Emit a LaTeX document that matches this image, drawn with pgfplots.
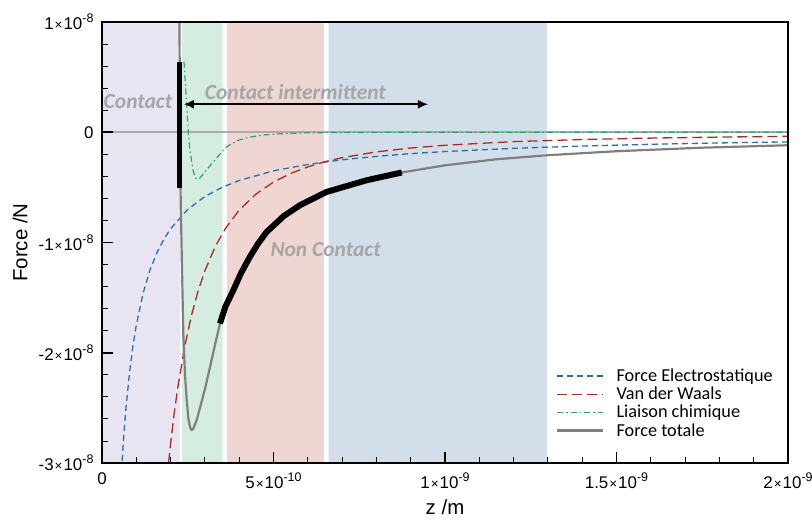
\documentclass[border=0pt]{standalone}
\usepackage{pgfplots}
\pgfplotsset{compat=1.18}
\usepackage{fontspec}
\setmainfont{Liberation Sans}
\newfontfamily\cali{Carlito}
\usetikzlibrary{arrows.meta}
\definecolor{regpurple}{HTML}{E9E4F2}
\definecolor{reggreen}{HTML}{D5ECE1}
\definecolor{regred}{HTML}{EFD6D2}
\definecolor{regblue}{HTML}{D2DFEA}
\definecolor{cblue}{HTML}{2A6EAE}
\definecolor{cred}{HTML}{AE2A1E}
\definecolor{cgreen}{HTML}{2EA36F}
\definecolor{cgray}{HTML}{7F7F7F}
\definecolor{annot}{HTML}{A6A6A6}
\newcommand{\tf}{\fontsize{17}{19}\selectfont}
\newcommand{\sci}[2]{\mbox{\tf #1\kern1bp{\fontsize{13.5}{12}\selectfont ×}\kern1bp 10\raisebox{7bp}{\fontsize{12.5}{12}\selectfont #2}}}
\newcommand{\zer}{\mbox{\tf 0}}
\begin{document}
\begin{tikzpicture}
\begin{axis}[
  scale only axis, width=686bp, height=441bp,
  xmin=0, xmax=2, ymin=-3, ymax=1,
  axis on top,
  axis line style={line width=1.8bp},
  tick align=inside, tick pos=left,
  major tick length=11bp, minor tick length=6bp,
  major tick style={line width=1.8bp, black},
  minor tick style={line width=0.9bp, black},
  xtick={0,0.5,1,1.5,2}, ytick={-3,-2,-1,0,1},
  minor x tick num=4, minor y tick num=4,
  xticklabels={\zer,\sci{5}{-10},\sci{1}{-9},\sci{1.5}{-9},\sci{2}{-9}},
  yticklabels={\sci{-3}{-8},\sci{-2}{-8},\sci{-1}{-8},\zer,\sci{1}{-8}},
  tick label style={font=\tf},
  xticklabel style={yshift=-6bp},
  yticklabel style={xshift=-5bp},
  xlabel={z /m}, ylabel={Force /N},
  label style={font=\fontsize{20.5}{23}\selectfont},
  x label style={at={(axis description cs:0.5,-0.100)}, anchor=center},
  y label style={at={(axis description cs:-0.1195,0.5)}, anchor=center},
  legend style={at={(axis description cs:0.662,0.218)}, anchor=north west,
    draw=none, fill=none, font=\cali\fontsize{18.3}{18.3}\selectfont,
    inner sep=0pt, row sep=0bp, column sep=10bp},
  legend cell align=left,
  legend image code/.code={\draw[#1] (0bp,0bp) -- (46bp,0bp);},
]
% shaded regions
\addplot[draw=none, fill=regpurple, forget plot] coordinates {(0,-3) (0.227,-3) (0.227,1) (0,1) (0,-3)};
\addplot[draw=none, fill=reggreen, forget plot] coordinates {(0.233,-3) (0.352,-3) (0.352,1) (0.233,1) (0.233,-3)};
\addplot[draw=none, fill=regred, forget plot] coordinates {(0.365,-3) (0.647,-3) (0.647,1) (0.365,1) (0.365,-3)};
\addplot[draw=none, fill=regblue, forget plot] coordinates {(0.661,-3) (1.297,-3) (1.297,1) (0.661,1) (0.661,-3)};
% zero line
\addplot[forget plot, color=black!33, line width=1.5bp] coordinates {(0,0) (2,0)};
% electrostatic
\addplot[cblue, line width=1.3bp, dash pattern=on 6bp off 4bp] coordinates {
(0.057,-3.07) (0.06,-2.917) (0.065,-2.692) (0.07,-2.5) (0.08,-2.1875) (0.09,-1.944)
(0.1,-1.75) (0.12,-1.458) (0.14,-1.25) (0.16,-1.094) (0.18,-0.972) (0.2,-0.875)
(0.25,-0.7) (0.3,-0.583) (0.35,-0.5) (0.4,-0.4375) (0.5,-0.35) (0.6,-0.292)
(0.7,-0.25) (0.8,-0.219) (0.9,-0.194) (1.0,-0.175) (1.2,-0.146) (1.4,-0.125)
(1.6,-0.109) (1.8,-0.097) (2.0,-0.0875)};
\addlegendentry{Force Electrostatique}
% van der waals
\addplot[cred, line width=1.3bp, dash pattern=on 10bp off 5bp] coordinates {
(0.194,-3.0) (0.2,-2.825) (0.21,-2.562) (0.22,-2.335) (0.24,-1.962) (0.26,-1.672)
(0.28,-1.441) (0.3,-1.256) (0.33,-1.038) (0.36,-0.872) (0.4,-0.706) (0.45,-0.558)
(0.5,-0.452) (0.55,-0.374) (0.6,-0.314) (0.65,-0.267) (0.7,-0.231) (0.8,-0.178)
(0.9,-0.143) (1.0,-0.118) (1.2,-0.085) (1.4,-0.066) (1.6,-0.053) (1.8,-0.044) (2.0,-0.037)};
\addlegendentry{Van der Waals}
% chemical
\addplot[cgreen, line width=1.2bp, dash pattern=on 6bp off 3bp on 1.5bp off 3bp] coordinates {
(0.239,0.64) (0.243,0.45) (0.247,0.25) (0.2516,0.0) (0.256,-0.15) (0.2615,-0.27)
(0.266,-0.35) (0.271,-0.40) (0.276,-0.425) (0.281,-0.425) (0.2857,-0.414) (0.295,-0.38)
(0.305,-0.34) (0.3245,-0.269) (0.345,-0.195) (0.3635,-0.133) (0.38,-0.10) (0.397,-0.073)
(0.43,-0.045) (0.47,-0.025) (0.528,-0.012) (0.6,-0.005) (0.7,-0.002) (0.8,-0.001)
(1.0,0) (1.5,0) (2.0,0)};
\addlegendentry{Liaison chimique}
% total
\addplot[cgray, line width=2.2bp] coordinates {
(0.2255,1.3) (0.2265,0.6) (0.2278,0.0) (0.2294,-0.616) (0.233,-1.2) (0.237,-1.822)
(0.242,-2.2) (0.247,-2.43) (0.252,-2.6) (0.257,-2.68) (0.2615,-2.70) (0.266,-2.69)
(0.276,-2.61) (0.29,-2.45) (0.30,-2.33) (0.315,-2.13) (0.33,-1.92) (0.344,-1.734)
(0.36,-1.58) (0.383,-1.432) (0.405,-1.28) (0.431,-1.131) (0.455,-1.01) (0.48,-0.904)
(0.53,-0.76) (0.577,-0.662) (0.655,-0.541) (0.772,-0.435) (0.874,-0.365) (1.0,-0.30)
(1.15,-0.245) (1.297,-0.209) (1.5,-0.172) (1.75,-0.14) (2.0,-0.118)};
\addlegendentry{Force totale}
% thick black segment (non contact)
\addplot[forget plot, black, line width=6bp] coordinates {
(0.344,-1.734) (0.36,-1.58) (0.383,-1.432) (0.405,-1.28) (0.431,-1.131) (0.455,-1.01)
(0.48,-0.904) (0.53,-0.76) (0.577,-0.662) (0.655,-0.541) (0.772,-0.435) (0.874,-0.365)};
% black bar (contact)
\addplot[forget plot, black, line width=5.5bp] coordinates {(0.226,0.64) (0.226,-0.51)};
% arrow
\draw[line width=1.5bp, {Latex[length=10bp,width=9bp]}-{Latex[length=10bp,width=9bp]}]
  (axis cs:0.239,0.254) -- (axis cs:0.95,0.254);
% annotations
\node[font=\cali\bfseries\itshape\fontsize{21.6}{24}\selectfont, text=annot] at (axis cs:0.105,0.277) {Contact};
\node[font=\cali\bfseries\itshape\fontsize{21.6}{24}\selectfont, text=annot] at (axis cs:0.564,0.363) {Contact intermittent};
\node[font=\cali\bfseries\itshape\fontsize{21.6}{24}\selectfont, text=annot] at (axis cs:0.652,-1.06) {Non Contact};
\end{axis}
\pgfresetboundingbox
\path[use as bounding box] (current axis.south west) ++(-102bp,-58bp) rectangle ++(812bp,521bp);
\end{tikzpicture}
\end{document}
